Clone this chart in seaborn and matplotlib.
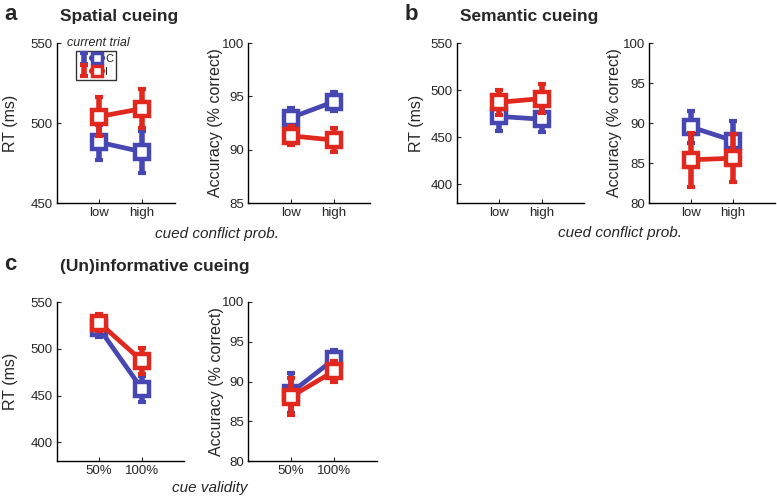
import numpy as np
import pandas as pd
import seaborn as sns
import matplotlib.pyplot as plt
from matplotlib.lines import Line2D
from matplotlib.legend_handler import HandlerTuple

# 데이터
prob_levels = ['low', 'high']
validity_levels = ['50%', '100%']
trial_types = ['C', 'I']

# a: spatial cueing
a_rt_c = [488, 482]
a_rt_c_err = [11, 13]
a_rt_i = [504, 509]
a_rt_i_err = [12, 12]
a_acc_c = [93.0, 94.5]
a_acc_c_err = [0.9, 0.9]
a_acc_i = [91.3, 90.9]
a_acc_i_err = [0.9, 1.1]

# b: semantic cueing
b_rt_c = [472, 469]
b_rt_c_err = [16, 14]
b_rt_i = [487, 491]
b_rt_i_err = [13, 15]
b_acc_c = [89.5, 87.8]
b_acc_c_err = [2.0, 2.5]
b_acc_i = [85.4, 85.6]
b_acc_i_err = [3.4, 3.0]

# c: (un)informative cueing
c_rt_c = [522, 457]
c_rt_c_err = [9, 14]
c_rt_i = [528, 487]
c_rt_i_err = [9, 14]
c_acc_c = [88.6, 92.8]
c_acc_c_err = [2.5, 1.2]
c_acc_i = [88.1, 91.3]
c_acc_i_err = [2.3, 1.3]

colors = {'C': '#4747b3', 'I': '#e0281f'}

sns.set_style('ticks')
plt.rcParams['font.family'] = ['Liberation Sans', 'DejaVu Sans']

fig = plt.figure(figsize=(7.77, 4.97), dpi=100)
W, H = 777, 497


def add_ax(x0, x1, y0, y1):
    # 픽셀 좌표 -> figure 좌표
    return fig.add_axes([x0 / W, 1 - y1 / H, (x1 - x0) / W, (y1 - y0) / H])


def draw(ax, levels, c_vals, c_err, i_vals, i_err, ylim, yticks, xlim, ylabel, label_x):
    containers = {}
    for k, (vals, err) in enumerate([(c_vals, c_err), (i_vals, i_err)]):
        t = trial_types[k]
        df = pd.DataFrame({'pos': [0, 1], 'val': vals})
        eb = ax.errorbar(df['pos'], df['val'], yerr=err, fmt='none',
                         ecolor=colors[t], elinewidth=4, capsize=3,
                         capthick=3, zorder=2 + 2 * k)
        sns.lineplot(data=df, x='pos', y='val', ax=ax, color=colors[t],
                     linewidth=3.4, marker='s', markersize=10,
                     markerfacecolor='white', markeredgecolor=colors[t],
                     markeredgewidth=3.2, zorder=3 + 2 * k)
        containers[t] = eb
    ax.set_xlim(*xlim)
    ax.set_ylim(*ylim)
    ax.set_xticks([0, 1])
    ax.set_xticklabels(levels)
    ax.set_yticks(yticks)
    ax.set_xlabel('')
    ax.set_ylabel(ylabel, fontsize=11.5)
    # 라벨 위치를 픽셀 좌표로 고정 (라벨 중심 + 반 높이)
    bb = ax.get_position()
    ax.yaxis.set_label_coords((label_x + 9) / W, bb.y0 + bb.height / 2,
                              transform=fig.transFigure)
    ax.tick_params(direction='in', length=3, width=0.8, labelsize=9.5, pad=3)
    sns.despine(ax=ax)
    for s in ['left', 'bottom']:
        ax.spines[s].set_linewidth(1.0)
        ax.spines[s].set_color('black')
    return containers


# a
ax = add_ax(57, 175, 43, 203)
cont = draw(ax, prob_levels, a_rt_c, a_rt_c_err, a_rt_i, a_rt_i_err,
            (450, 550), [450, 500, 550], (-0.977, 1.767), 'RT (ms)', 9)
handles = []
for t in trial_types:
    proxy = Line2D([], [], color=colors[t], linewidth=4.5, marker='s',
                   markersize=7, markerfacecolor='white',
                   markeredgecolor=colors[t], markeredgewidth=2.5)
    handles.append((cont[t], proxy))
leg = ax.legend(handles, trial_types, handler_map={tuple: HandlerTuple(ndivide=None)},
                loc='upper left', bbox_to_anchor=(0.162, 0.95), fontsize=8,
                frameon=True, fancybox=False, handlelength=2.0,
                handletextpad=0.3, borderpad=0.3, labelspacing=0.2,
                borderaxespad=0)
leg.get_frame().set_edgecolor('black')
leg.get_frame().set_linewidth(1.0)
ax.text(0.35, 1.0, 'current trial', transform=ax.transAxes, ha='center',
        va='center', fontsize=9, style='italic')

ax = add_ax(248, 370, 43, 203)
draw(ax, prob_levels, a_acc_c, a_acc_c_err, a_acc_i, a_acc_i_err,
     (85, 100), [85, 90, 95, 100], (-1.0, 1.84), 'Accuracy (% correct)', 214)

# b
ax = add_ax(457, 584, 43, 203)
draw(ax, prob_levels, b_rt_c, b_rt_c_err, b_rt_i, b_rt_i_err,
     (380, 550), [400, 450, 500, 550], (-1.0, 2.0), 'RT (ms)', 415)
ax = add_ax(649, 775, 43, 203)
draw(ax, prob_levels, b_acc_c, b_acc_c_err, b_acc_i, b_acc_i_err,
     (80, 100), [80, 85, 90, 95, 100], (-1.0, 2.0), 'Accuracy (% correct)', 613)

# c
ax = add_ax(57, 184, 302, 461)
draw(ax, validity_levels, c_rt_c, c_rt_c_err, c_rt_i, c_rt_i_err,
     (380, 550), [400, 450, 500, 550], (-0.977, 1.977), 'RT (ms)', 9)
ax = add_ax(248, 377, 302, 461)
draw(ax, validity_levels, c_acc_c, c_acc_c_err, c_acc_i, c_acc_i_err,
     (80, 100), [80, 85, 90, 95, 100], (-1.0, 2.0), 'Accuracy (% correct)', 215)

# 패널 제목, x축 라벨
def ftext(x, y, s, **kw):
    fig.text(x / W, 1 - y / H, s, **kw)

ftext(4, 15, 'a', fontsize=16, fontweight='bold', va='center')
ftext(60, 17, 'Spatial cueing', fontsize=12.5, fontweight='bold', va='center')
ftext(405, 15, 'b', fontsize=16, fontweight='bold', va='center')
ftext(460, 17, 'Semantic cueing', fontsize=12.5, fontweight='bold', va='center')
ftext(4, 265, 'c', fontsize=16, fontweight='bold', va='center')
ftext(60, 267, '(Un)informative cueing', fontsize=12.5, fontweight='bold', va='center')

ftext(217, 234, 'cued conflict prob.', fontsize=11, style='italic', ha='center', va='center')
ftext(620, 233, 'cued conflict prob.', fontsize=11, style='italic', ha='center', va='center')
ftext(210, 488, 'cue validity', fontsize=11, style='italic', ha='center', va='center')

fig.savefig('out.png', dpi=100)
